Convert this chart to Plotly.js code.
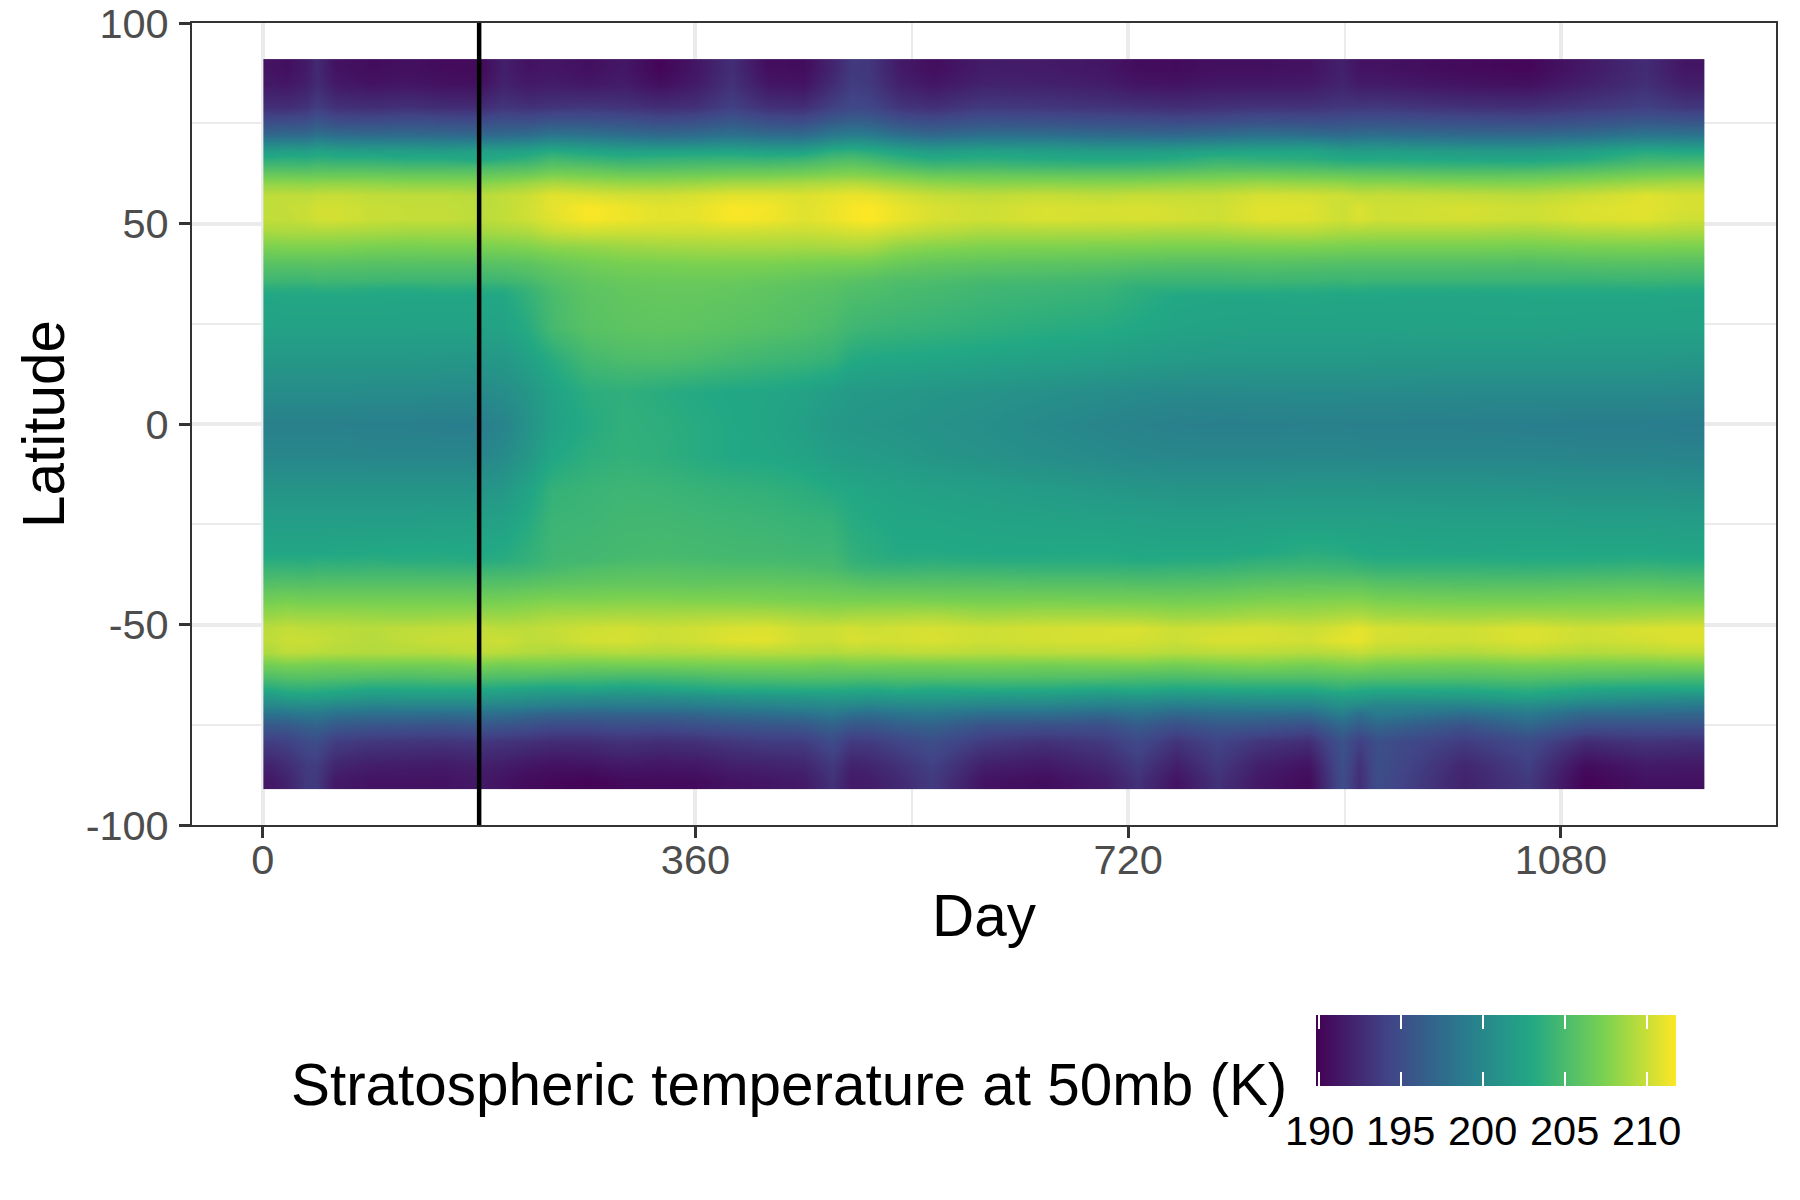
<!DOCTYPE html>
<html>
<head>
<meta charset="utf-8">
<script src="https://cdn.plot.ly/plotly-3.0.1.min.js"></script>
<style>html,body{margin:0;padding:0;background:#fff}</style>
</head>
<body>
<div id="chart" style="width:1800px;height:1200px"></div>
<script>
const days = [7,20,36,45,60,90,120,150,180,200,220,240,270,300,330,360,390,420,450,474,490,505,530,557,600,650,700,728,760,794,830,870,898,912,927,1000,1053,1100,1150,1183]
const latitudes = [89,85,79,75,72,70,68,66,64,62,60,57,54,51,48,44,40,36,34,32,24,16,8,0,-8,-16,-24,-32,-34,-36,-40,-44,-48,-51,-54,-57,-60,-63,-66,-68,-70,-72,-75,-79,-85,-89]

// one row per latitude, north to south, one value per day (K)
const temperature = [
[191.0,190.8,191.5,192.5,191.0,190.6,190.8,190.5,190.4,191.8,191.0,191.2,190.8,191.3,190.1,191.2,192.8,190.7,190.6,192.2,193.5,193.3,191.5,190.7,191.6,191.5,191.2,190.6,190.5,190.8,190.8,191.0,191.9,191.0,191.0,190.4,190.2,191.4,192.6,191.2],
[191.4,191.2,191.8,192.6,191.4,191.0,191.2,190.9,190.8,192.0,191.4,191.6,191.3,191.6,190.7,191.5,193.0,191.2,191.0,192.6,193.7,193.5,191.9,191.2,192.0,191.9,191.6,191.1,191.0,191.3,191.3,191.4,192.1,191.5,191.5,191.0,190.8,191.8,192.8,191.7],
[192.9,192.8,193.1,193.8,193.0,192.8,193.0,192.7,192.7,193.3,193.0,193.2,193.4,193.2,192.8,193.0,194.0,193.0,192.8,194.0,194.6,194.4,193.3,192.9,193.6,193.4,193.2,193.0,192.8,193.0,193.2,193.1,193.4,193.4,193.5,193.0,192.9,193.4,194.0,193.4],
[195.2,195.3,195.4,196.0,195.3,195.2,195.5,195.3,195.2,195.6,195.5,196.0,195.9,195.7,195.2,195.5,196.2,195.4,195.3,196.5,196.9,196.8,195.6,195.2,195.8,195.6,195.4,195.3,195.1,195.3,195.7,195.5,195.5,195.7,195.7,195.4,195.2,195.6,196.2,196.0],
[197.4,197.6,197.5,198.2,197.7,197.6,197.6,197.5,197.4,197.6,197.8,198.5,198.3,197.9,197.5,197.7,198.2,197.7,197.6,198.8,199.2,199.0,197.9,197.4,198.0,197.9,197.6,197.5,197.4,197.8,198.2,197.9,197.6,197.8,197.9,197.5,197.5,197.8,198.6,198.4],
[199.8,200.0,199.9,200.5,200.0,200.0,199.9,199.8,199.9,200.0,200.3,201.0,200.6,200.2,199.8,200.0,200.5,200.0,200.0,201.2,201.6,201.3,200.3,199.7,200.2,200.2,199.8,199.8,199.7,200.2,200.4,200.5,199.9,200.0,200.1,199.6,199.5,200.0,200.9,200.7],
[202.0,202.3,202.2,202.6,202.3,202.1,202.2,202.0,202.4,202.3,202.6,203.3,202.8,202.4,202.5,202.6,202.6,202.4,202.4,203.6,203.8,203.4,202.6,202.0,202.5,202.2,202.0,202.0,202.2,202.6,202.8,202.8,202.1,202.0,202.2,201.9,201.7,202.3,203.3,203.0],
[203.6,203.8,203.6,203.9,203.7,203.7,203.4,203.4,203.0,203.5,203.9,204.8,204.3,203.9,204.1,204.2,204.3,204.1,204.4,205.1,205.3,204.9,204.0,203.4,203.6,203.3,203.1,203.2,203.4,204.1,203.8,203.6,203.2,203.0,203.2,202.9,202.8,203.3,204.5,204.4],
[205.1,205.1,205.1,205.3,205.2,205.2,205.0,205.0,205.0,205.3,205.4,206.1,205.9,205.4,205.4,205.6,205.7,205.7,205.9,206.4,206.6,206.3,205.5,204.9,205.0,204.7,204.6,204.7,204.9,205.3,205.3,205.1,204.8,204.8,204.7,204.5,204.4,205.0,205.8,205.9],
[206.7,206.7,206.6,206.7,206.7,206.7,206.6,206.6,206.5,206.7,207.0,207.6,207.3,207.0,207.0,207.1,207.3,207.3,207.5,207.8,207.9,207.7,207.2,206.7,206.6,206.5,206.4,206.4,206.6,206.9,207.0,206.8,206.7,206.5,206.5,206.2,206.3,206.7,207.3,207.5],
[208.1,208.2,208.1,208.2,208.3,208.2,208.0,208.0,207.9,208.2,208.6,209.1,208.8,208.5,208.4,208.6,208.9,208.9,209.1,209.3,209.5,209.3,208.7,208.2,207.9,208.0,207.9,208.0,208.2,208.3,208.6,208.4,208.3,208.0,208.1,207.8,207.7,208.2,208.8,209.0],
[209.7,209.8,209.7,209.9,210.0,209.8,209.7,209.7,209.5,209.8,210.1,210.9,210.7,210.4,210.3,210.6,210.9,210.9,210.7,211.0,211.2,211.1,210.5,210.0,209.7,210.0,209.7,210.0,209.9,210.0,210.5,210.4,210.2,209.9,210.0,209.8,209.6,210.1,210.8,210.5],
[209.8,209.9,210.1,210.4,210.4,210.0,209.9,209.9,209.6,209.8,210.3,211.0,211.7,211.3,210.9,211.0,211.7,211.5,210.8,211.2,211.6,211.8,211.1,210.6,210.2,210.6,210.5,210.6,210.4,210.2,210.9,210.8,210.1,210.7,210.2,210.5,210.2,210.7,210.9,210.5],
[209.8,209.8,210.0,210.3,210.4,210.0,209.9,209.9,209.6,209.8,210.2,210.8,211.6,211.3,210.9,211.0,211.6,211.4,210.8,211.2,211.6,211.8,211.1,210.5,210.2,210.6,210.4,210.5,210.4,210.2,210.8,210.7,210.2,210.6,210.2,210.4,210.1,210.6,210.8,210.2],
[209.0,209.1,209.1,209.2,209.1,209.0,208.8,208.8,208.8,209.0,209.2,210.0,210.3,210.2,210.2,210.2,210.3,210.2,210.1,210.3,210.5,210.6,210.0,209.6,209.1,209.2,209.2,209.1,209.0,209.1,209.4,209.5,209.1,209.1,209.0,209.0,208.8,209.2,209.3,209.1],
[207.4,207.5,207.5,207.5,207.5,207.3,207.2,207.3,207.3,207.4,207.6,208.0,208.2,208.5,208.7,208.8,208.9,208.9,208.8,208.9,209.0,208.9,208.1,207.8,207.5,207.5,207.4,207.4,207.3,207.3,207.4,207.4,207.3,207.2,207.2,207.2,207.1,207.3,207.4,207.3],
[205.7,205.7,205.7,205.8,205.7,205.6,205.6,205.6,205.6,205.7,205.9,206.4,206.9,207.2,207.3,207.4,207.4,207.4,207.2,207.1,207.1,207.0,206.5,206.2,206.0,205.9,205.8,205.6,205.5,205.5,205.6,205.5,205.4,205.4,205.4,205.4,205.3,205.5,205.6,205.5],
[204.5,204.4,204.4,204.6,204.5,204.5,204.4,204.4,204.4,204.5,204.9,205.6,206.2,206.5,206.6,206.6,206.6,206.4,206.2,206.0,205.8,205.6,205.3,205.2,204.9,204.8,204.6,204.3,204.3,204.3,204.4,204.4,204.3,204.4,204.3,204.3,204.3,204.2,204.3,204.2],
[203.5,203.5,203.4,203.6,203.6,203.4,203.3,203.5,203.4,203.5,204.2,205.2,206.0,206.3,206.4,206.4,206.3,206.1,205.9,205.7,205.4,205.3,205.0,204.9,204.5,204.4,204.2,203.7,203.6,203.6,203.6,203.5,203.4,203.5,203.3,203.3,203.3,203.3,203.4,203.3],
[202.8,202.9,202.9,202.9,202.9,202.9,202.8,202.8,202.8,202.9,203.9,205.0,205.9,206.2,206.3,206.3,206.2,206.0,205.7,205.5,205.2,205.1,204.9,204.7,204.4,204.2,204.0,203.5,202.9,202.8,202.8,202.9,202.8,202.8,202.8,202.7,202.8,202.8,202.8,202.7],
[202.4,202.4,202.4,202.4,202.4,202.4,202.4,202.4,202.4,202.5,203.3,204.8,205.7,206.0,206.1,206.0,205.8,205.6,205.3,205.0,204.5,204.3,204.1,204.0,203.7,203.4,203.2,202.9,202.6,202.5,202.4,202.4,202.4,202.4,202.4,202.5,202.5,202.4,202.4,202.4],
[201.5,201.5,201.5,201.5,201.5,201.5,201.5,201.4,201.4,201.5,202.3,203.3,204.7,205.1,205.2,205.0,204.7,204.4,204.2,203.9,203.1,202.9,202.8,202.7,202.5,202.3,202.1,201.9,201.7,201.6,201.6,201.6,201.6,201.6,201.5,201.5,201.5,201.5,201.5,201.4],
[200.5,200.5,200.5,200.5,200.5,200.4,200.4,200.3,200.3,200.6,201.3,202.5,203.5,203.7,203.4,203.1,202.9,202.8,202.5,202.0,201.7,201.6,201.5,201.3,201.1,200.8,200.5,200.3,200.2,200.2,200.3,200.3,200.3,200.3,200.3,200.2,200.2,200.2,200.2,200.1],
[199.4,199.4,199.4,199.4,199.4,199.3,199.3,199.2,199.2,199.7,201.0,202.3,203.2,203.8,203.6,203.3,203.0,202.7,202.2,201.6,201.4,201.3,201.2,201.0,200.7,200.2,199.8,199.6,199.4,199.3,199.3,199.4,199.4,199.3,199.3,199.3,199.2,199.1,199.1,199.0],
[200.0,200.0,200.0,200.0,200.0,199.9,199.9,199.9,199.9,200.4,201.5,202.9,203.6,203.9,203.7,203.3,203.0,202.9,202.6,202.1,201.9,201.8,201.6,201.3,201.0,200.6,200.3,200.1,200.0,200.0,200.0,200.0,200.0,200.0,199.9,199.9,199.9,199.8,199.8,199.7],
[201.2,201.2,201.2,201.2,201.2,201.2,201.2,201.2,201.2,201.5,202.6,203.9,204.2,204.4,204.3,204.1,203.9,203.8,203.5,203.1,202.9,202.7,202.5,202.3,202.1,201.8,201.5,201.3,201.2,201.2,201.2,201.3,201.3,201.3,201.2,201.2,201.1,201.0,201.0,200.9],
[202.1,202.1,202.1,202.1,202.1,202.1,202.1,202.2,202.2,202.4,203.2,204.3,204.4,204.6,204.6,204.5,204.4,204.3,204.1,204.0,203.3,203.1,202.8,202.8,202.6,202.5,202.4,202.3,202.2,202.2,202.3,202.3,202.3,202.3,202.3,202.2,202.2,202.1,202.1,202.0],
[202.8,202.8,202.8,202.8,202.9,203.0,203.1,203.1,203.0,203.2,203.8,204.5,204.6,204.8,204.9,204.8,204.7,204.7,204.5,204.5,203.8,203.5,203.1,203.1,203.0,203.0,203.1,202.9,202.9,202.9,203.0,203.5,203.3,203.1,202.9,202.8,202.9,202.9,202.9,202.8],
[203.5,203.5,203.4,203.6,203.5,203.6,203.4,203.5,203.3,203.5,203.9,204.6,204.7,205.0,205.1,205.0,204.9,204.9,204.8,204.8,204.0,203.7,203.5,203.6,203.4,203.4,203.4,203.2,203.3,203.4,203.8,204.0,203.9,203.6,203.4,203.4,203.3,203.3,203.5,203.3],
[204.2,204.2,204.1,204.3,204.2,204.3,204.3,204.2,204.2,204.3,204.5,204.9,205.3,205.5,205.6,205.5,205.4,205.4,205.2,205.0,204.5,204.3,204.2,204.3,204.2,204.1,204.1,204.0,204.1,204.2,204.5,204.6,204.5,204.3,204.1,204.1,204.0,204.1,204.3,204.1],
[205.6,205.7,205.6,205.7,205.7,205.7,205.7,205.7,205.7,205.7,205.9,206.1,206.3,206.4,206.4,206.3,206.4,206.4,206.3,206.2,206.0,205.8,205.8,205.8,205.8,205.7,205.7,205.6,205.6,205.7,206.0,206.1,206.1,206.1,205.8,205.6,205.7,205.8,205.9,205.7],
[207.1,207.3,207.1,207.2,207.2,207.2,207.2,207.2,207.1,207.2,207.4,207.6,207.6,207.7,207.7,207.6,207.6,207.5,207.4,207.3,207.3,207.3,207.4,207.3,207.2,207.3,207.2,207.2,207.1,207.2,207.5,207.6,207.7,207.7,207.4,207.2,207.2,207.3,207.4,207.3],
[208.5,208.7,208.6,208.6,208.6,208.5,208.4,208.5,208.6,208.5,208.7,209.0,209.1,209.2,209.1,209.2,209.3,209.3,209.0,208.8,209.0,209.1,209.1,209.3,208.8,209.0,209.0,208.9,208.6,208.7,209.0,208.9,209.2,209.3,208.9,208.7,208.9,208.7,208.9,209.1],
[209.6,209.9,209.7,209.7,209.6,209.5,209.7,209.8,209.9,209.6,209.7,209.9,210.2,210.4,210.1,210.3,210.6,210.7,210.1,210.2,210.4,210.2,210.4,210.5,210.2,210.4,210.5,210.6,210.1,210.3,210.5,210.1,210.6,211.0,210.5,210.2,210.7,210.2,210.6,210.7],
[209.7,210.1,210.1,210.0,209.7,209.4,209.8,210.1,210.0,210.2,209.7,209.8,210.4,210.5,210.1,210.3,210.8,210.9,210.2,210.1,210.6,210.4,210.4,210.6,210.2,210.4,210.5,210.4,210.1,210.6,210.5,210.3,211.0,211.1,210.4,210.2,210.7,210.1,210.4,210.7],
[209.2,209.7,209.6,209.5,209.4,209.3,209.3,209.4,209.7,209.5,209.3,209.1,209.2,209.4,209.2,209.3,209.4,209.5,209.4,209.3,209.5,209.4,209.6,209.7,209.5,209.6,209.6,209.7,209.4,209.6,209.6,209.4,209.6,209.9,209.5,209.2,209.7,209.3,209.5,209.7],
[207.0,207.3,207.2,207.1,207.0,207.1,207.0,207.0,207.3,207.0,207.1,207.1,206.9,207.0,207.0,207.1,207.2,207.2,207.2,206.9,207.2,207.2,207.1,207.1,207.2,207.1,207.2,207.3,207.0,207.3,207.5,207.1,207.5,207.6,207.2,207.0,207.3,207.1,207.1,207.3],
[205.3,205.6,205.7,205.6,205.5,205.3,205.2,205.4,205.4,205.2,205.2,205.0,204.9,204.8,204.8,205.0,205.3,205.4,205.5,205.5,205.4,205.3,205.5,205.5,205.5,205.5,205.4,205.2,205.1,205.3,205.4,205.4,205.6,205.6,205.5,205.4,205.6,205.3,205.2,205.0],
[203.2,203.6,203.7,203.6,203.4,202.9,203.0,203.1,203.0,202.8,202.6,202.4,202.7,202.3,202.6,202.9,203.2,203.2,203.3,203.3,203.2,203.0,203.4,203.0,203.3,203.2,202.9,203.2,202.8,203.0,203.1,203.0,203.7,203.3,203.1,203.2,203.7,202.9,202.6,202.8],
[201.6,202.1,202.3,202.2,202.0,201.4,201.5,201.5,201.5,201.3,201.0,200.8,200.5,200.6,200.5,200.7,201.0,201.2,201.4,201.7,201.6,201.4,201.7,201.8,201.4,201.5,201.0,201.3,200.9,201.1,201.2,201.3,202.0,201.9,201.5,201.6,202.4,201.3,200.9,200.6],
[200.0,200.3,200.5,200.5,200.0,199.7,199.8,199.8,199.8,199.7,199.5,199.2,199.0,199.0,199.0,199.2,199.5,199.7,200.0,200.2,200.0,199.7,200.1,200.2,199.8,199.8,199.3,199.6,199.1,199.4,199.6,199.5,200.8,200.2,199.7,199.7,200.4,199.4,199.0,198.9],
[198.3,198.4,198.8,198.8,198.2,197.9,198.0,197.8,198.0,197.8,197.4,197.0,196.9,197.0,197.0,197.2,197.7,197.9,198.2,198.8,198.0,197.8,198.4,198.6,197.9,197.9,197.4,198.1,197.3,197.7,197.7,197.6,199.4,197.9,199.0,197.8,198.9,197.3,197.4,197.2],
[196.0,196.1,196.7,196.9,196.0,195.7,195.6,195.4,195.8,195.6,195.3,194.8,194.8,195.1,194.9,195.2,195.5,195.7,195.9,196.8,195.8,195.8,196.4,196.8,195.5,195.3,195.2,196.2,195.2,195.9,195.8,195.2,197.3,196.3,197.1,195.5,197.1,195.3,195.3,195.3],
[193.9,194.1,194.8,195.0,193.8,193.4,193.3,193.2,193.4,193.2,193.0,192.7,192.7,193.1,192.8,193.0,193.4,193.7,193.8,194.9,193.6,193.7,194.4,195.1,193.6,193.0,193.6,194.7,193.2,194.3,193.3,192.8,195.5,194.0,195.2,193.7,194.8,192.7,193.2,193.0],
[192.1,192.7,193.6,193.7,192.2,191.7,191.6,191.5,191.8,191.6,191.2,190.9,191.0,191.4,191.2,191.3,191.8,192.0,192.2,193.5,192.0,192.2,193.0,194.0,191.8,191.4,192.3,193.6,191.8,193.5,191.8,191.0,195.2,193.0,195.2,192.3,193.9,190.6,191.5,191.4],
[191.4,192.0,193.5,193.5,191.4,191.0,191.0,191.0,191.4,191.0,190.5,190.3,190.0,190.4,190.5,190.5,191.0,191.2,191.5,193.0,191.5,191.6,192.5,193.6,191.0,190.6,191.6,193.0,191.0,193.0,191.3,190.4,195.0,192.8,195.0,192.0,193.5,190.0,190.9,190.9]
]

const markerDay = [180, 180]
const markerLat = [-100, 100]

const dayTicks = [0, 360, 720, 1080]
const dayMinor = [180, 540, 900]
const latTicks = [-100, -50, 0, 50, 100]
const latLabels = ['-100', '-50', '0', '50', '100']
const latMinor = [-75, -25, 25, 75]
const colourTicks = [190, 195, 200, 205, 210]
const zMin = 189.82
const zMax = 211.8

// viridis(6), as the reference legend shows it
const viridis = [[0,'#440154'],[0.2,'#414487'],[0.4,'#2A788E'],[0.6,'#22A884'],[0.8,'#7AD151'],[1,'#FDE725']]

// plot box in page pixels, everything outside it is placed relative to this
const box = {l: 191.5, r: 1776, t: 23, b: 825.5}
paperX = px => (px - box.l) / (box.r - box.l)
paperY = py => (box.b - py) / (box.b - box.t)

const font = 'Liberation Sans'
const barLeft = 1316, barWidth = 360, barTop = 1016, barBottom = 1087
barX = value => barLeft + (value - zMin) / (zMax - zMin) * barWidth

const heat = {
    type: 'heatmap',
    x: days,
    // plotly wants the rows bottom to top here
    y: latitudes.slice().reverse(),
    z: temperature.slice().reverse(),
    zmin: zMin,
    zmax: zMax,
    zsmooth: 'best',
    colorscale: viridis,
    hoverinfo: 'skip',
    colorbar: {
        orientation: 'h',
        lenmode: 'pixels', len: barWidth,
        thicknessmode: 'pixels', thickness: barBottom - barTop,
        x: paperX(barLeft), xanchor: 'left', xpad: 0,
        y: paperY(barTop), yanchor: 'top', ypad: 0,
        outlinewidth: 0,
        tickmode: 'array', tickvals: colourTicks,
        ticks: 'inside', ticklen: 14, tickwidth: 1.5, tickcolor: '#ffffff',
        showticklabels: false
    }
}

// second, see-through colour bar just for the white ticks along the top edge of the legend
const topTicks = {
    type: 'heatmap',
    x: days.slice(0, 2),
    y: latitudes.slice(0, 2),
    z: [temperature[0].slice(0, 2), temperature[1].slice(0, 2)],
    zmin: zMin,
    zmax: zMax,
    opacity: 0,
    colorscale: [[0, 'rgba(255,255,255,0)'], [1, 'rgba(255,255,255,0)']],
    hoverinfo: 'skip',
    colorbar: {
        orientation: 'h',
        lenmode: 'pixels', len: barWidth,
        thicknessmode: 'pixels', thickness: 1,
        x: paperX(barLeft), xanchor: 'left', xpad: 0,
        y: paperY(barTop - 1), yanchor: 'top', ypad: 0,
        outlinewidth: 0,
        tickmode: 'array', tickvals: colourTicks,
        ticks: 'outside', ticklen: 14, tickwidth: 1.5, tickcolor: '#ffffff',
        showticklabels: false
    }
}

const marker = {
    type: 'scatter',
    mode: 'lines',
    x: markerDay,
    y: markerLat,
    line: {color: '#000000', width: 4.5},
    cliponaxis: false,
    showlegend: false,
    hoverinfo: 'skip'
}

const axisStyle = {
    showline: true, linecolor: '#333333', linewidth: 2, mirror: true,
    ticks: 'outside', ticklen: 11, tickwidth: 3, tickcolor: '#333333',
    tickfont: {family: font, size: 41.5, color: '#4D4D4D'},
    ticklabeloverflow: 'allow',
    showgrid: true, gridcolor: '#EBEBEB', gridwidth: 4,
    zeroline: false
}

const legendTitle = {
    text: 'Stratospheric temperature at 50mb (K)',
    xref: 'paper', yref: 'paper',
    x: paperX(1288.5), y: paperY(1085),
    xanchor: 'right', yanchor: 'middle',
    showarrow: false,
    font: {family: font, size: 58.4, color: '#000000'}
}

// the colour bar cannot push its labels away from the bar, so they go in as annotations
const legendLabels = colourTicks.map(v => ({
    text: String(v),
    xref: 'paper', yref: 'paper',
    x: paperX(barX(v)), y: paperY(1131),
    xanchor: 'center', yanchor: 'middle',
    showarrow: false,
    font: {family: font, size: 41.5, color: '#000000'}
}))

const layout = {
    width: 1800,
    height: 1200,
    paper_bgcolor: '#ffffff',
    plot_bgcolor: '#ffffff',
    showlegend: false,
    margin: {l: box.l, r: 1800 - box.r, t: box.t, b: 1200 - box.b, pad: 0, autoexpand: false},
    xaxis: Object.assign({}, axisStyle, {
        range: [-58.9, 1259],
        tickmode: 'array', tickvals: dayTicks,
        ticklabelstandoff: -14,
        minor: {tickmode: 'array', tickvals: dayMinor, ticks: '', showgrid: true, gridcolor: '#EBEBEB', gridwidth: 2},
        title: {text: 'Day', font: {family: font, size: 58.4, color: '#000000'}, standoff: 13}
    }),
    yaxis: Object.assign({}, axisStyle, {
        range: [-100, 100],
        tickmode: 'array', tickvals: latTicks, ticktext: latLabels,
        ticklabelstandoff: 2,
        minor: {tickmode: 'array', tickvals: latMinor, ticks: '', showgrid: true, gridcolor: '#EBEBEB', gridwidth: 2},
        title: {text: 'Latitude', font: {family: font, size: 58.4, color: '#000000'}, standoff: 2.5}
    }),
    annotations: [legendTitle].concat(legendLabels)
}

Plotly.newPlot('chart', [heat, topTicks, marker], layout, {displayModeBar: false, responsive: false})
</script>
</body>
</html>
